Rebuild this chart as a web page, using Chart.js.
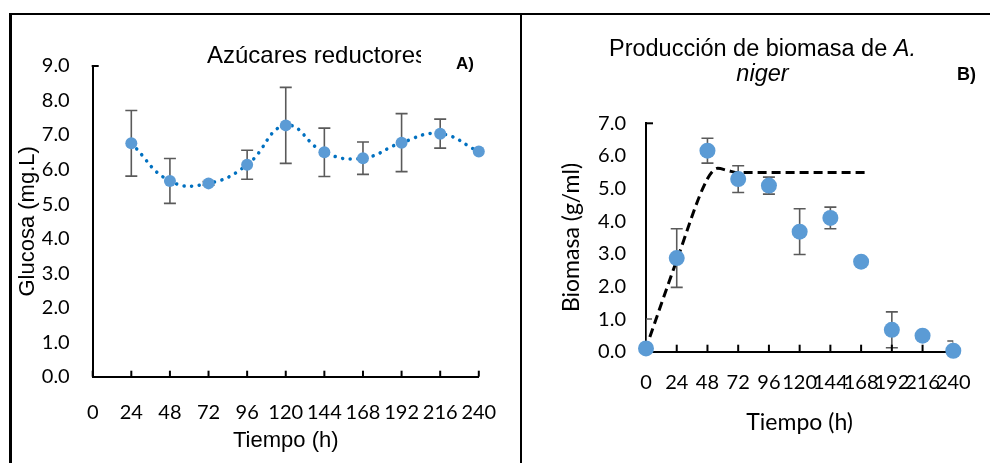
<!DOCTYPE html>
<html lang="es">
<head>
<meta charset="utf-8">
<title>Azúcares reductores y biomasa</title>
<script src="https://cdn.jsdelivr.net/npm/chart.js@4.4.1/dist/chart.umd.min.js"></script>
<style>
  body { margin: 0; background: #fff; }
  #page { position: relative; width: 990px; height: 463px; overflow: hidden; }
  canvas { position: absolute; top: 0; }
  #chartA { left: 0; }
  #chartB { left: 520px; }
  .line { position: absolute; background: #000; }
  .txt { position: absolute; white-space: nowrap; color: #000; line-height: 1; }
  .title { font-family: "Liberation Sans", Arial, sans-serif; font-size: 23.5px; }
  .tag { font-family: "Liberation Sans", Arial, sans-serif; font-weight: bold; }
</style>
</head>
<body>
<div id="page">
  <canvas id="chartA" width="520" height="463"></canvas>
  <canvas id="chartB" width="470" height="463"></canvas>

  <div class="line" style="left:9px; top:13px; width:981px; height:2px;"></div>
  <div class="line" style="left:9px; top:13px; width:2.5px; height:450px;"></div>
  <div class="line" style="left:520px; top:13px; width:2px; height:450px;"></div>

  <div class="txt title" style="left:207px; top:43px; width:214px; overflow:hidden; font-size:24px;">Azúcares reductores</div>
  <div class="txt tag" style="left:456px; top:54.6px; font-size:17px;">A)</div>

  <div class="txt title" style="left:582.5px; top:36px; width:360px; text-align:center; line-height:25px; white-space:normal;">Producción de biomasa de <i>A.</i><br><i>niger</i></div>
  <div class="txt tag" style="left:957px; top:64.8px; font-size:18px;">B)</div>
</div>

<script>
// A) azúcares reductores
const hoursA = [24, 48, 72, 96, 120, 144, 168, 192, 216, 240];
const glucosa = [6.76, 5.67, 5.6, 6.14, 7.28, 6.5, 6.33, 6.78, 7.04, 6.52];
const errGlucosa = [0.95, 0.65, 0.05, 0.42, 1.1, 0.7, 0.47, 0.84, 0.42, 0];

// B) biomasa
const hoursB = [0, 24, 48, 72, 96, 120, 144, 168, 192, 216, 240];
const biomasa = [0.1, 2.87, 6.16, 5.29, 5.09, 3.68, 4.1, 2.76, 0.67, 0.49, 0.03];
const errBiomasa = [0.9, 0.9, 0.38, 0.41, 0.26, 0.7, 0.33, 0, 0.55, 0, 0.3];

// modelo (linea discontinua)
const modelHours = [3, 24, 48, 56, 64, 72, 120, 171];
const modelValues = [0.45, 2.8, 5.3, 5.62, 5.55, 5.49, 5.49, 5.49];

const xTicksStep = 24;

function toPoints(xs, ys) {
  return xs.map((x, i) => ({ x: x, y: ys[i] }));
}

const errorBars = {
  id: 'errorBars',
  beforeDatasetsDraw(chart) {
    const { ctx, chartArea, scales: { x, y } } = chart;
    ctx.save();
    ctx.beginPath();
    ctx.rect(chartArea.left, chartArea.top, chartArea.width, chartArea.height);
    ctx.clip();
    ctx.strokeStyle = '#5a5a5a';
    ctx.lineWidth = 1.6;
    chart.data.datasets.forEach(ds => {
      if (!ds.errorBars) return;
      ds.data.forEach((p, i) => {
        const e = ds.errorBars[i];
        if (!e) return;
        const px = x.getPixelForValue(p.x);
        const top = y.getPixelForValue(p.y + e);
        const bot = y.getPixelForValue(p.y - e);
        ctx.beginPath();
        ctx.moveTo(px, top); ctx.lineTo(px, bot);
        ctx.moveTo(px - 6, top); ctx.lineTo(px + 6, top);
        ctx.moveTo(px - 6, bot); ctx.lineTo(px + 6, bot);
        ctx.stroke();
      });
    });
    ctx.restore();
  }
};

const innerTicks = {
  id: 'innerTicks',
  beforeDatasetsDraw(chart, args, opts) {
    const { ctx, chartArea, scales: { x } } = chart;
    const len = opts.len || 6;
    ctx.save();
    ctx.strokeStyle = '#000';
    ctx.lineWidth = 2;
    x.ticks.forEach(t => {
      const px = x.getPixelForValue(t.value);
      ctx.beginPath();
      ctx.moveTo(px, chartArea.bottom);
      ctx.lineTo(px, chartArea.bottom - len);
      ctx.stroke();
    });
    ctx.beginPath();
    ctx.moveTo(chartArea.left - 1, chartArea.top);
    ctx.lineTo(chartArea.left + len, chartArea.top);
    ctx.stroke();
    ctx.restore();
  }
};

function axes(cfg) {
  return {
    x: {
      type: 'linear',
      min: 0,
      max: 240,
      afterFit: s => { s.height = cfg.xHeight; },
      grid: { display: false, drawTicks: false },
      border: { display: true, color: '#000', width: 2 },
      ticks: {
        stepSize: xTicksStep,
        autoSkip: false,
        maxRotation: 0,
        padding: cfg.xPad,
        color: '#000',
        font: { family: 'Lato', size: cfg.tickSize }
      },
      title: {
        display: true,
        text: 'Tiempo (h)',
        color: '#000',
        padding: { top: 0, bottom: cfg.xTitlePad },
        font: { family: cfg.titleFont, size: cfg.titleSize }
      }
    },
    y: {
      min: 0,
      max: cfg.yMax,
      afterFit: s => { s.width = cfg.yWidth; },
      grid: { display: false, drawTicks: false },
      border: { display: true, color: '#000', width: 2 },
      ticks: {
        stepSize: 1,
        padding: cfg.yPad,
        color: '#000',
        font: { family: 'Lato', size: cfg.tickSize },
        callback: v => v.toFixed(1)
      },
      title: {
        display: true,
        text: cfg.yTitle,
        color: '#000',
        padding: { top: cfg.yTitlePad, bottom: 0 },
        font: { family: cfg.titleFont, size: cfg.titleSize }
      }
    }
  };
}

new Chart(document.getElementById('chartA'), {
  type: 'line',
  data: {
    datasets: [{
      label: 'Azúcares reductores',
      data: toPoints(hoursA, glucosa),
      errorBars: errGlucosa,
      borderColor: '#0070C0',
      borderWidth: 3.5,
      borderDash: [0.1, 7.6],
      borderCapStyle: 'round',
      tension: 0.45,
      pointRadius: 6,
      pointBackgroundColor: '#5B9BD5',
      pointBorderColor: '#5B9BD5',
      pointBorderWidth: 0,
      clip: false
    }]
  },
  options: {
    responsive: false,
    animation: false,
    devicePixelRatio: 1,
    layout: { padding: { top: 66, right: 33.3, bottom: 0, left: 0 } },
    plugins: { legend: { display: false }, tooltip: { enabled: false }, innerTicks: { len: 6 } },
    scales: axes({
      yMax: 9, yWidth: 92.7, xHeight: 86.3, xPad: 23.8, yPad: 23,
      tickSize: 20, titleFont: 'Liberation Sans', titleSize: 22,
      xTitlePad: 9, yTitlePad: 14.8, yTitle: 'Glucosa (mg.L)'
    })
  },
  plugins: [errorBars, innerTicks]
});

new Chart(document.getElementById('chartB'), {
  type: 'line',
  data: {
    datasets: [{
      label: 'Biomasa',
      data: toPoints(hoursB, biomasa),
      errorBars: errBiomasa,
      showLine: false,
      pointRadius: 8,
      pointBackgroundColor: '#5B9BD5',
      pointBorderColor: '#5B9BD5',
      pointBorderWidth: 0,
      clip: false
    }, {
      label: 'Modelo',
      data: toPoints(modelHours, modelValues),
      borderColor: '#000',
      borderWidth: 3,
      borderDash: [9, 5],
      cubicInterpolationMode: 'monotone',
      pointRadius: 0,
      clip: false
    }]
  },
  options: {
    responsive: false,
    animation: false,
    devicePixelRatio: 1,
    layout: { padding: { top: 123.3, right: 34.3, bottom: 0, left: 0 } },
    plugins: { legend: { display: false }, tooltip: { enabled: false }, innerTicks: { len: 7 } },
    scales: axes({
      yMax: 7, yWidth: 126, xHeight: 111.3, xPad: 19.3, yPad: 20,
      tickSize: 20, titleFont: 'Lato', titleSize: 23,
      xTitlePad: 27, yTitlePad: 38, yTitle: 'Biomasa (g/ml)'
    })
  },
  plugins: [errorBars, innerTicks]
});
</script>
</body>
</html>
